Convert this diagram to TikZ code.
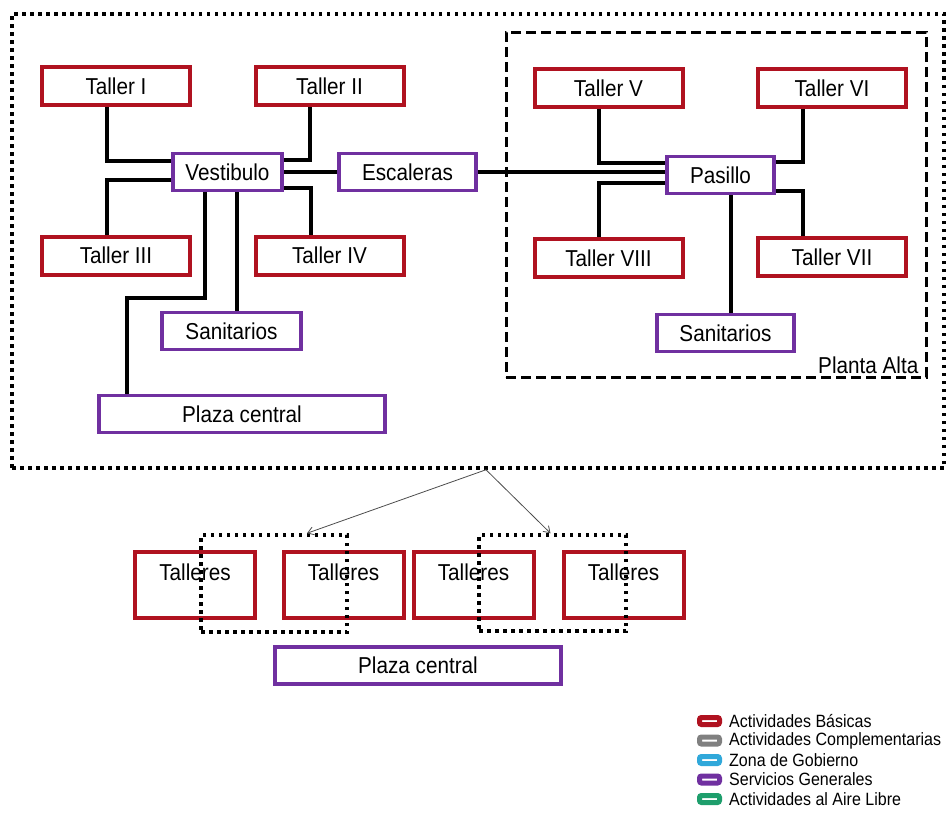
\documentclass[tikz,border=0pt]{standalone}
\usepackage{fontspec}
\setmainfont[FakeStretch=0.9]{Liberation Sans}
\usetikzlibrary{positioning,arrows.meta}

\definecolor{basred}{RGB}{176,18,32}
\definecolor{servpurple}{RGB}{112,48,160}
\definecolor{compgray}{RGB}{128,128,128}
\definecolor{gobcyan}{RGB}{48,168,218}
\definecolor{airegreen}{RGB}{30,158,108}

\tikzset{
  taller/.style={draw=basred, line width=4pt, minimum width=148pt, minimum height=38pt, inner sep=0pt, font=\fontsize{23}{26}\selectfont},
  servicio/.style={draw=servpurple, line width=3.5pt, minimum height=37pt, inner sep=0pt, font=\fontsize{23}{26}\selectfont},
  liga/.style={line width=3.5pt},
  puntos/.style={line width=3.5pt, dash pattern=on 3.5pt off 4.5pt},
  rayas/.style={line width=3pt, dash pattern=on 10pt off 5pt},
  legico/.style={line width=5pt, fill=white, rounded corners=2pt, minimum width=20pt, minimum height=7pt, inner sep=0pt},
  legtxt/.style={inner sep=0pt, font=\fontsize{17.8}{20}\selectfont}
}

\begin{document}
\begin{tikzpicture}[x=1pt,y=-1pt]
\useasboundingbox (0,0) rectangle (948,819);

%PLANTA BAJA
  \node[puntos, draw, minimum width=932pt, minimum height=454pt] (baja) at (478,241) {};
  \node[taller] (tI) at (116,86) {Taller I};
  \node[taller] (tII) at (329.5,86) {Taller II};
  \node[taller] (tIII) at (116,255.5) {Taller III};
  \node[taller] (tIV) at (329.5,255.5) {Taller IV};
  \node[servicio, minimum width=109pt] (vest) at (227.5,172) {Vestibulo};
  \node[servicio, minimum width=137pt] (esc) at (407.5,172) {Escaleras};
  \node[servicio, minimum width=139pt] (sanL) at (231.5,331) {Sanitarios};
  \node[servicio, minimum width=286pt] (plazaL) at (242,414) {Plaza central};
  \draw[liga] ([xshift=-9pt]tI.south) |- ([yshift=11pt]vest.west);
  \draw[liga] ([xshift=-19.5pt]tII.south) |- ([yshift=12pt]vest.east);
  \draw[liga] ([yshift=-8pt]vest.west) -| ([xshift=-9pt]tIII.north);
  \draw[liga] ([yshift=-16pt]vest.east) -| ([xshift=-18.5pt]tIV.north);
  \draw[liga] (vest.east) -- (esc.west);
  \draw[liga] ([xshift=9.5pt]vest.south) -- ([xshift=9.5pt]vest.south |- sanL.north);
  \draw[liga] ([xshift=-22.5pt]vest.south) -- ++(0,105.5) -| ([xshift=-115pt]plazaL.north);

%PLANTA ALTA
  \node[rayas, draw, minimum width=420pt, minimum height=345pt,
    label={[anchor=south east, inner sep=0pt, xshift=-9pt, yshift=5pt, font=\fontsize{23}{26}\selectfont]south east:Planta Alta}] (alta) at (716,204.5) {};
  \node[taller] (tV) at (608.5,88) {Taller V};
  \node[taller] (tVI) at (832,88) {Taller VI};
  \node[taller] (tVIII) at (608.5,258) {Taller VIII};
  \node[taller] (tVII) at (832,257) {Taller VII};
  \node[servicio, minimum width=107pt] (pas) at (720.5,175) {Pasillo};
  \node[servicio, minimum width=137pt] (sanR) at (725.5,333) {Sanitarios};
  \draw[liga] (esc.east) -- (esc.east -| pas.west);
  \draw[liga] ([xshift=-9.5pt]tV.south) |- ([yshift=12pt]pas.west);
  \draw[liga] ([xshift=-29pt]tVI.south) |- ([yshift=13pt]pas.east);
  \draw[liga] ([yshift=-8pt]pas.west) -| ([xshift=-9.5pt]tVIII.north);
  \draw[liga] ([yshift=-16pt]pas.east) -| ([xshift=-29pt]tVII.north);
  \draw[liga] ([xshift=10.5pt]pas.south) -- ([xshift=10.5pt]pas.south |- sanR.north);

%TALLERES
  \node[taller, minimum width=120pt, minimum height=66pt, text depth=26pt] (ta1) at (195,585) {Talleres};
  \node[taller, minimum width=120pt, minimum height=66pt, text depth=26pt] (ta2) at (343.5,585) {Talleres};
  \node[taller, minimum width=120pt, minimum height=66pt, text depth=26pt] (ta3) at (473.5,585) {Talleres};
  \node[taller, minimum width=120pt, minimum height=66pt, text depth=26pt] (ta4) at (623.5,585) {Talleres};
  \node[puntos, draw, minimum width=146pt, minimum height=97pt] (grp1) at (274,583.5) {};
  \node[puntos, draw, minimum width=147pt, minimum height=96pt] (grp2) at (552.5,583) {};
  \node[servicio, minimum width=286pt] (plazaB) at (418,665.5) {Plaza central};
  \draw[-{Straight Barb[length=6pt, width=8pt]}, line width=0.8pt, black!70] ([xshift=8pt]baja.south) -- ([xshift=33pt]grp1.north);
  \draw[-{Straight Barb[length=6pt, width=8pt]}, line width=0.8pt, black!70] ([xshift=8pt]baja.south) -- ([xshift=-2pt]grp2.north);

%LEYENDA
  \foreach \col/\txt [count=\i] in {basred/Actividades Básicas, compgray/Actividades Complementarias, gobcyan/Zona de Gobierno, servpurple/Servicios Generales, airegreen/Actividades al Aire Libre}
  {
    \node[legico, draw=\col] (leg\i) at (709.5,{701.5+19.5*\i}) {};
    \node[legtxt, right=7pt of leg\i] {\txt};
  }
\end{tikzpicture}
\end{document}
